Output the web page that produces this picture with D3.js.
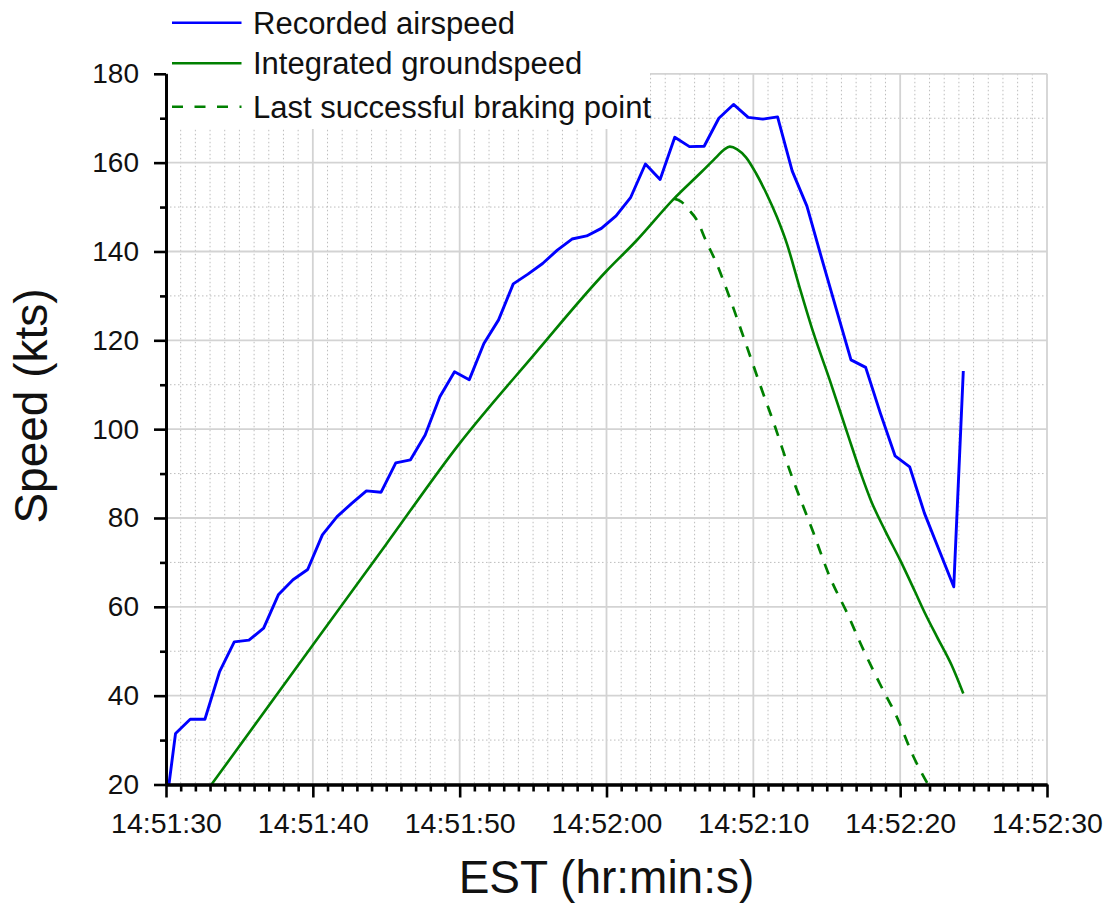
<!DOCTYPE html>
<html>
<head>
<meta charset="utf-8">
<script src="https://cdn.jsdelivr.net/npm/d3@7"></script>
<style>
  html, body { margin: 0; padding: 0; background: #fff; }
  svg { display: block; font-family: "Liberation Sans", Arial, sans-serif; }
</style>
</head>
<body>
<svg id="chart" width="1113" height="912"></svg>
<script>
// Time origin of the record (EST); sample times are seconds after it.
const startClock = "14:51:30";

// Recorded airspeed (kts), one sample per second
const airspeedSec = [0.2, 0.65, 1.65, 2.65, 3.65, 4.65, 5.65, 6.65, 7.65, 8.65, 9.65,
  10.65, 11.65, 12.65, 13.65, 14.65, 15.65, 16.65, 17.65, 18.65, 19.65,
  20.65, 21.65, 22.65, 23.65, 24.65, 25.65, 26.65, 27.65, 28.65, 29.65,
  30.65, 31.65, 32.65, 33.65, 34.65, 35.65, 36.65, 37.65, 38.65, 39.65,
  40.65, 41.65, 42.65, 43.65, 44.65, 45.65, 46.65, 47.65, 48.65, 49.65,
  50.65, 51.65, 52.65, 53.65, 54.3];
const airspeedKts = [20.0, 31.5, 34.7, 34.7, 45.4, 52.1, 52.5, 55.2, 62.7, 66.1, 68.4,
  76.2, 80.3, 83.3, 86.1, 85.8, 92.4, 93.1, 98.7, 107.3, 112.9,
  111.1, 119.3, 124.6, 132.7, 134.9, 137.3, 140.3, 142.8, 143.5, 145.2,
  148.0, 152.2, 159.7, 156.2, 165.7, 163.6, 163.7, 170.0, 173.1, 170.2,
  169.8, 170.3, 158.1, 150.2, 138.5, 127.0, 115.6, 113.9, 103.6, 94.0,
  91.5, 81.1, 72.8, 64.5, 113.1];

// Integrated groundspeed (kts)
const groundSec = [3.1, 10, 15, 20, 25, 30, 32, 34.6, 36.5, 37.5, 38.0, 38.4, 38.9,
  39.5, 40.2, 40.9, 41.6, 42.3, 43.1, 44.1, 45.2, 46.4, 47.4, 48.0, 49.0,
  50.0, 51.0, 51.7, 52.5, 53.5, 54.3];
const groundKts = [20.0, 51.4, 74.1, 96.8, 116.5, 135.6, 142.3, 151.9, 158.0, 161.3, 162.9, 163.6, 163.0,
  161.2, 157.5, 153.0, 147.8, 141.6, 132.5, 121.6, 111.1, 99.1, 89.3, 84.0, 77.0,
  70.5, 63.5, 58.5, 53.3, 46.9, 40.5];

// Last successful braking point (kts)
const brakingSec = [34.6, 35.1, 35.6, 36.15, 36.8, 37.5, 38.2, 39.2, 40.5, 41.4, 42.5,
  44.1, 45.2, 46.4, 47.5, 48.6, 49.8, 50.9, 51.9];
const brakingKts = [151.9, 151.2, 149.4, 147.1, 142.2, 137.3, 131.3, 122.0, 109.6, 101.3, 90.5,
  76.6, 66.8, 58.5, 50.3, 42.8, 35.0, 26.3, 20.0];

// Axis ticks
const yTicks = [20, 40, 60, 80, 100, 120, 140, 160, 180];
const xTickSec = [0, 10, 20, 30, 40, 50, 60];

const seriesNames = ["Recorded airspeed", "Integrated groundspeed", "Last successful braking point"];

const t0 = d3.timeParse("%H:%M:%S")(startClock);
const at = s => new Date(t0.getTime() + s * 1000);
const toPoints = (secs, vals) => secs.map((s, i) => ({ t: at(s), v: vals[i] }));

const airspeed = toPoints(airspeedSec, airspeedKts);
const ground = toPoints(groundSec, groundKts);
const braking = toPoints(brakingSec, brakingKts);

const plotLeft = 166, plotRight = 1047, plotTop = 73.8, plotBottom = 784.5;
const x = d3.scaleTime().domain([at(0), at(60)]).range([plotLeft, plotRight]);
const y = d3.scaleLinear().domain([20, 180]).range([plotBottom, plotTop]);

const svg = d3.select("#chart");

svg.append("defs").append("clipPath").attr("id", "plotClip")
  .append("rect").attr("x", plotLeft).attr("y", plotTop)
  .attr("width", plotRight - plotLeft).attr("height", plotBottom - plotTop);

// Grid: dotted minor lines, solid major lines
const minorX = d3.range(0, 61, 1).filter(s => s % 10 !== 0).map(at);
const minorY = d3.range(30, 180, 20);
const grid = svg.append("g");
grid.selectAll("line.mx").data(minorX).join("line")
  .attr("x1", d => x(d)).attr("x2", d => x(d)).attr("y1", plotTop).attr("y2", plotBottom)
  .attr("stroke", "#bdbdbd").attr("stroke-width", 1).attr("stroke-dasharray", "1.5,2.5");
grid.selectAll("line.my").data(minorY).join("line")
  .attr("x1", plotLeft).attr("x2", plotRight).attr("y1", d => y(d)).attr("y2", d => y(d))
  .attr("stroke", "#bdbdbd").attr("stroke-width", 1).attr("stroke-dasharray", "1.5,2.5");
grid.selectAll("line.Mx").data(xTickSec.map(at)).join("line")
  .attr("x1", d => x(d)).attr("x2", d => x(d)).attr("y1", plotTop).attr("y2", plotBottom)
  .attr("stroke", "#d3d3d3").attr("stroke-width", 1.8);
grid.selectAll("line.My").data(yTicks).join("line")
  .attr("x1", plotLeft).attr("x2", plotRight).attr("y1", d => y(d)).attr("y2", d => y(d))
  .attr("stroke", "#d3d3d3").attr("stroke-width", 1.8);

// Data lines
const lineGen = d3.line().x(d => x(d.t)).y(d => y(d.v));
const smooth = d3.line().x(d => x(d.t)).y(d => y(d.v)).curve(d3.curveMonotoneX);
const plot = svg.append("g").attr("clip-path", "url(#plotClip)");
plot.append("path").datum(ground).attr("d", smooth)
  .attr("fill", "none").attr("stroke", "#008000").attr("stroke-width", 2.6);
plot.append("path").datum(braking).attr("d", smooth)
  .attr("fill", "none").attr("stroke", "#008000").attr("stroke-width", 2.7)
  .attr("stroke-dasharray", "11,10");
plot.append("path").datum(airspeed).attr("d", lineGen)
  .attr("fill", "none").attr("stroke", "#0000ff").attr("stroke-width", 2.9)
  .attr("stroke-linejoin", "round");

// Axes
const fmt = d3.timeFormat("%H:%M:%S");
const xAxis = d3.axisBottom(x).tickValues(xTickSec.map(at)).tickFormat(fmt)
  .tickSize(13).tickSizeOuter(0).tickPadding(15);
const xMinor = d3.axisBottom(x).tickValues(minorX).tickFormat("").tickSize(7).tickSizeOuter(0);
const yAxis = d3.axisLeft(y).tickValues(yTicks).tickFormat(d3.format("d"))
  .tickSize(12).tickSizeOuter(0).tickPadding(15);
const yMinor = d3.axisLeft(y).tickValues(minorY).tickFormat("").tickSize(6).tickSizeOuter(0);

function styleAxis(g, size) {
  g.selectAll("path.domain").attr("stroke", "#000").attr("stroke-width", 2.8);
  g.selectAll(".tick line").attr("stroke", "#000").attr("stroke-width", 2.6);
  g.selectAll(".tick text").attr("fill", "#111").style("font-size", size + "px")
    .style("font-family", '"Liberation Sans", Arial, sans-serif');
}
svg.append("g").attr("transform", `translate(0,${plotBottom})`).call(xMinor).call(g => styleAxis(g, 28));
svg.append("g").attr("transform", `translate(0,${plotBottom})`).call(xAxis).call(g => styleAxis(g, 28.5));
svg.append("g").attr("transform", `translate(${plotLeft},0)`).call(yMinor).call(g => styleAxis(g, 28));
svg.append("g").attr("transform", `translate(${plotLeft},0)`).call(yAxis).call(g => styleAxis(g, 28));

// Axis titles
svg.append("text").attr("x", (plotLeft + plotRight) / 2).attr("y", 893)
  .attr("text-anchor", "middle").style("font-size", "46px").attr("fill", "#111")
  .text("EST (hr:min:s)");
svg.append("text").attr("transform", "translate(46.5,406) rotate(-90)")
  .attr("text-anchor", "middle").style("font-size", "46px").attr("fill", "#111")
  .text("Speed (kts)");

// Legend with white backing over the grid
const legend = svg.append("g");
legend.append("rect").attr("x", plotLeft + 2).attr("y", 0).attr("width", 482).attr("height", 129).attr("fill", "#fff");
const rows = [
  { name: seriesNames[0], color: "#0000ff", dash: null, yy: 22.7 },
  { name: seriesNames[1], color: "#008000", dash: null, yy: 63.3 },
  { name: seriesNames[2], color: "#008000", dash: "11,11.5", yy: 106.7 }
];
rows.forEach(r => {
  legend.append("line").attr("x1", 172).attr("x2", 241.5).attr("y1", r.yy).attr("y2", r.yy)
    .attr("stroke", r.color).attr("stroke-width", 2.6).attr("stroke-dasharray", r.dash);
  legend.append("text").attr("x", 253).attr("y", r.yy + 11).style("font-size", "31px")
    .attr("fill", "#111").text(r.name);
});
</script>
</body>
</html>
